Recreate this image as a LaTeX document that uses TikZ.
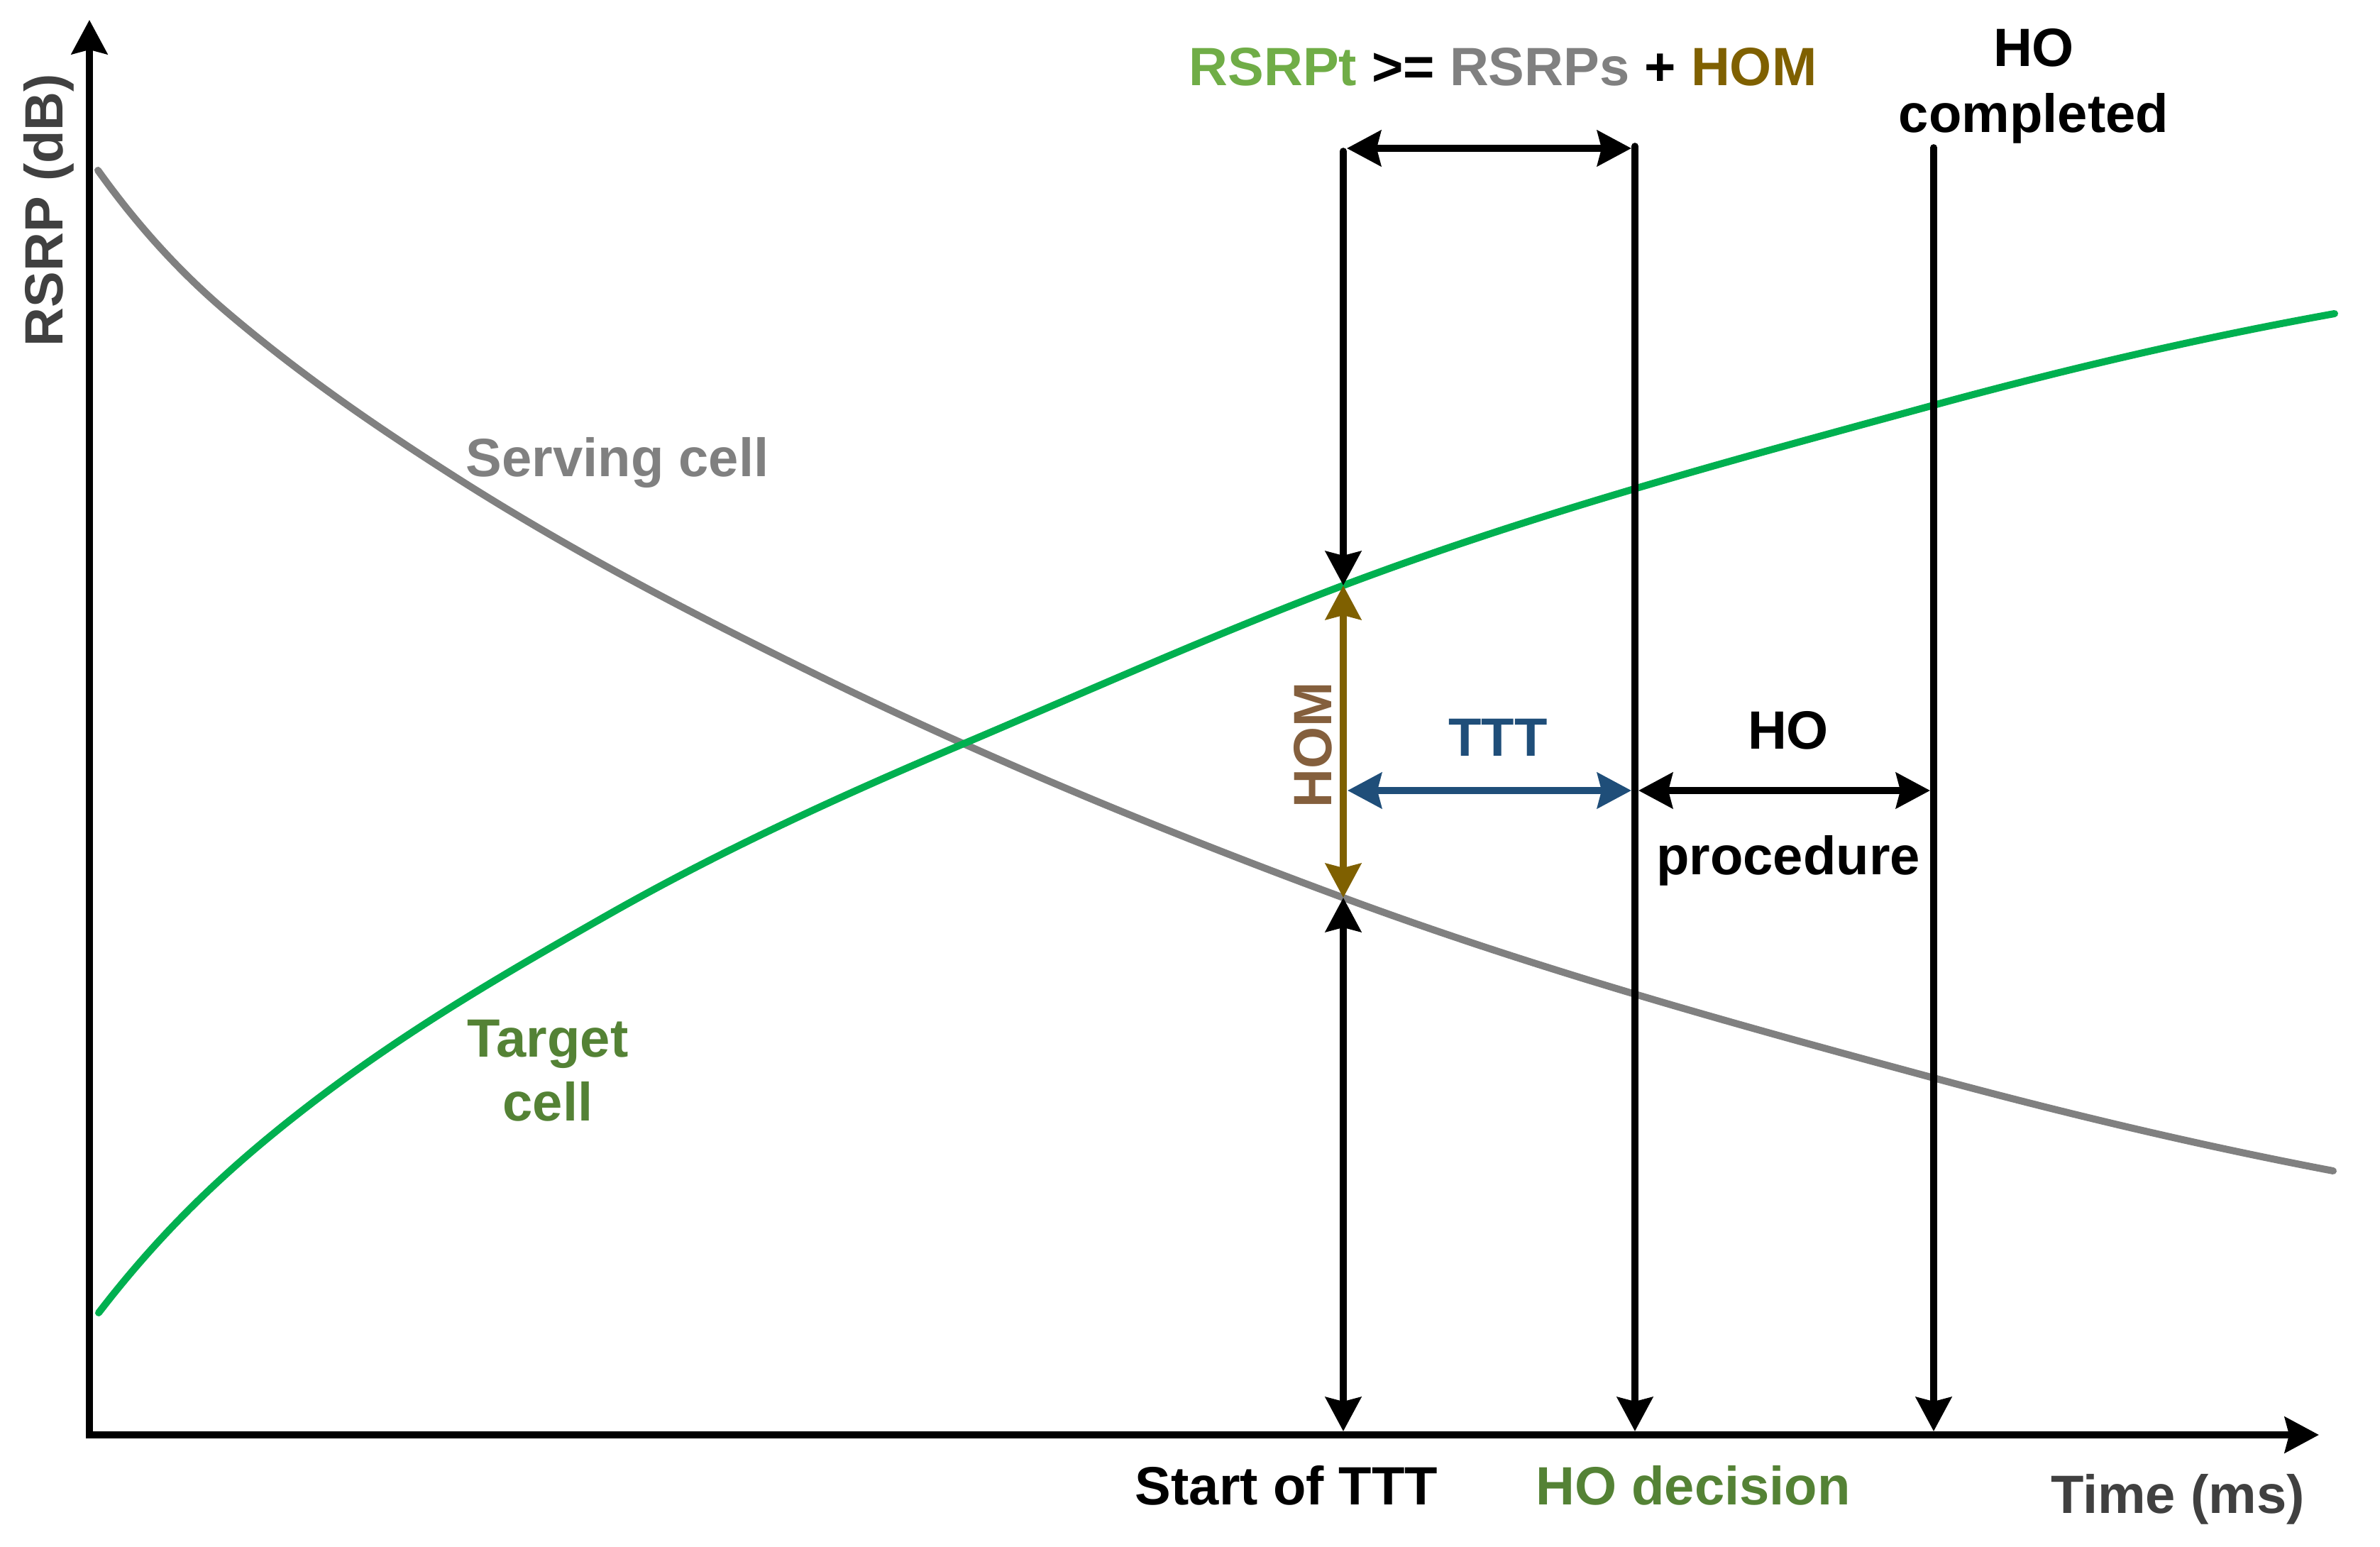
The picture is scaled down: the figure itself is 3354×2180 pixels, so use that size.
\documentclass[tikz,border=0pt]{standalone}
\usepackage{fontspec}
\setmainfont{Liberation Sans}
\usetikzlibrary{arrows.meta}
\definecolor{srvgray}{HTML}{808080}
\definecolor{tgtgreen}{HTML}{00B050}
\definecolor{tgtlabel}{HTML}{548235}
\definecolor{rsrptgreen}{HTML}{70AD47}
\definecolor{homgold}{HTML}{7F6000}
\definecolor{homlabel}{HTML}{845F3D}
\definecolor{tttblue}{HTML}{1F4E79}
\definecolor{axislabel}{HTML}{404040}
\begin{document}
\begin{tikzpicture}[x=0.25pt,y=-0.25pt,
  >={Stealth[length=12pt,width=12.5pt,inset=1.5pt]},
  lbl/.style={inner sep=0pt, anchor=base, font=\fontsize{19pt}{23pt}\selectfont\bfseries},
  curveline/.style={line width=2.5pt, line cap=round},
  markline/.style={line width=2.4pt, line cap=round},
  axisline/.style={line width=2.6pt, line join=miter},
]
\useasboundingbox (0,0) rectangle (3354,2180);

% axes
\coordinate (origin) at (126,2022);
\coordinate (ytip) at (126,28);
\coordinate (xtip) at (3268,2022);
\draw[axisline, <->] (ytip) -- (origin) -- (xtip);

% serving cell curve
\draw[curveline, srvgray] (138,240)
  .. controls (198.7,324.9) and (259.3,388.4) .. (320,440)
  .. controls (425,529.3) and (530,600.8) .. (635,668)
  .. controls (808.3,778.9) and (981.7,868.1) .. (1155,953)
  .. controls (1401,1073.5) and (1647,1174) .. (1893,1265)
  .. controls (2170.3,1367.6) and (2447.7,1444.1) .. (2725,1519)
  .. controls (2912.7,1569.7) and (3100.3,1614.3) .. (3288,1650);
% target cell curve
\draw[curveline, tgtgreen] (139,1850)
  .. controls (216,1749.9) and (293,1674.3) .. (370,1610)
  .. controls (530,1476.4) and (690,1384.2) .. (850,1293)
  .. controls (1019.3,1196.5) and (1188.7,1119.8) .. (1358,1048)
  .. controls (1536.3,972.4) and (1714.7,892.2) .. (1893,825)
  .. controls (2170.3,720.5) and (2447.7,646.7) .. (2725,571)
  .. controls (2913.3,519.6) and (3101.7,475.9) .. (3290,442);

% key points
\coordinate (stop) at (1893,213);
\coordinate (sgreen) at (1893,825);
\coordinate (sgray) at (1893,1265);
\coordinate (saxis) at (1893,2017);
\coordinate (dtop) at (2304,206);
\coordinate (daxis) at (2304,2017);
\coordinate (ctop) at (2725,208);
\coordinate (caxis) at (2725,2017);
\coordinate (hleft) at (1898,209);
\coordinate (hright) at (2299,209);
\coordinate (tleft) at (1899,1114);
\coordinate (tright) at (2299,1114);
\coordinate (pleft) at (2309,1114);
\coordinate (pright) at (2720,1114);

% vertical markers
\draw[markline, ->] (stop) -- (sgreen);
\draw[markline, homgold, <->] (sgreen) -- (sgray);
\draw[markline, <->] (sgray) -- (saxis);
\draw[markline, ->] (dtop) -- (daxis);
\draw[markline, ->] (ctop) -- (caxis);

% horizontal arrows
\draw[markline, <->] (hleft) -- (hright);
\draw[markline, tttblue, <->] (tleft) -- (tright);
\draw[markline, <->] (pleft) -- (pright);

% labels
\node[lbl, rotate=90, text=axislabel] (ylab) at (88,296) {RSRP (dB)};
\node[lbl, text=axislabel] (xlab) at (3069,2132) {Time (ms)};
\node[lbl] (startlab) at (1813,2120) {Start of TTT};
\node[lbl, text=tgtlabel] (declab) at (2386,2120) {HO decision};
\node[lbl, text=srvgray] (srvlab) at (870,672) {Serving cell};
\node[lbl, text=tgtlabel] (tgtlab1) at (772,1490) {Target};
\node[lbl, text=tgtlabel] (tgtlab2) at (772,1580) {cell};
\node[lbl] (cond) at (2118,121) {\textcolor{rsrptgreen}{RSRPt} >= \textcolor{srvgray}{RSRPs} + \textcolor{homgold}{HOM}};
\node[lbl] (hoc1) at (2866,94) {HO};
\node[lbl] (hoc2) at (2866,187) {completed};
\node[lbl, text=tttblue] (tttlab) at (2111,1066) {TTT};
\node[lbl] (hoplab1) at (2520,1056) {HO};
\node[lbl] (hoplab2) at (2520,1233) {procedure};
\node[lbl, rotate=90, text=homlabel] (homlab) at (1876,1050) {HOM};
\end{tikzpicture}
\end{document}
